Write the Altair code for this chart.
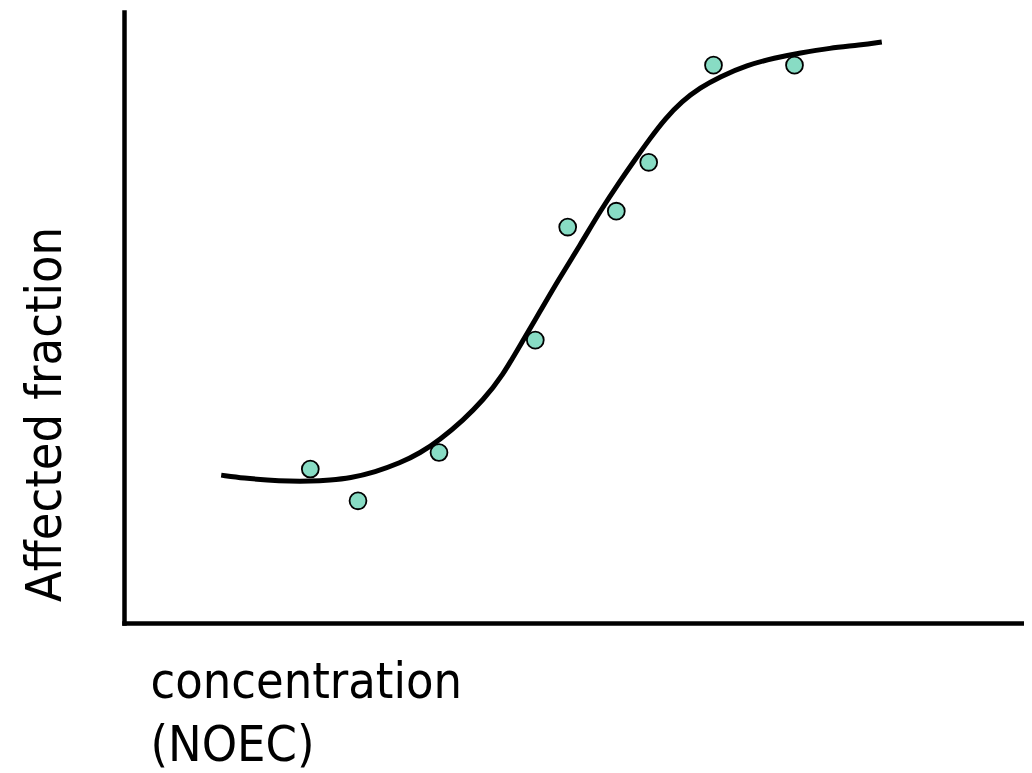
import altair as alt
import pandas as pd

obs_x = [20.7, 26.0, 35.0, 45.7, 49.3, 54.7, 58.3, 65.5, 74.5]
obs_y = [0.252, 0.200, 0.279, 0.463, 0.648, 0.674, 0.754, 0.913, 0.913]

# Fitted curve, points
curve_x = [10.8, 13.4, 15.9, 18.4, 20.7, 22.9, 25.1, 27.9, 30.7, 32.9, 35.1,
           37.7, 39.9, 42.0, 44.3, 46.2, 48.2, 50.7, 52.9, 55.1, 56.9, 58.4,
           60.1, 62.0, 64.0, 66.2, 69.2, 72.3, 75.1, 78.4, 81.8, 84.2]
curve_y = [0.242, 0.237, 0.234, 0.232, 0.232, 0.234, 0.237, 0.247, 0.262, 0.278, 0.300,
           0.332, 0.365, 0.403, 0.462, 0.509, 0.560, 0.619, 0.674, 0.723, 0.761, 0.792,
           0.825, 0.854, 0.876, 0.894, 0.913, 0.925, 0.933, 0.941, 0.946, 0.951]

x_title = ["concentration", "\u2009(NOEC)"]
y_title = "Affected fraction"

pts = pd.DataFrame({"x": obs_x, "y": obs_y})
crv = pd.DataFrame({"x": curve_x, "y": curve_y})

FONT = "DejaVu Sans Condensed, DejaVu Sans"

xscale = alt.Scale(domain=[0, 100], nice=False, zero=False)
yscale = alt.Scale(domain=[0, 1], nice=False, zero=False)

xaxis = alt.Axis(
    title=x_title, ticks=False, labels=False, grid=False,
    domainColor="black", domainWidth=4.5, domainCap="square",
    titleFont=FONT, titleFontSize=50, titleFontWeight="normal", titleColor="black",
    titleAlign="left", titleBaseline="alphabetic", titleX=26, titleY=74,
    titleLineHeight=63,
)
yaxis = alt.Axis(
    title=y_title, ticks=False, labels=False, grid=False,
    domainColor="black", domainWidth=4.5, domainCap="square",
    titleFont=FONT, titleFontSize=50, titleFontWeight="normal", titleColor="black",
    titleAngle=270, titleAlign="center", titleBaseline="alphabetic",
    titleX=-64, titleY=402,
)

line = alt.Chart(crv).mark_line(
    color="black", strokeWidth=5, interpolate="basis", strokeCap="butt"
).encode(
    x=alt.X("x:Q", scale=xscale, axis=xaxis),
    y=alt.Y("y:Q", scale=yscale, axis=yaxis),
    order="x:Q",
)

points = alt.Chart(pts).mark_point(
    filled=True, fill="#88dcc4", stroke="black", strokeWidth=1.8,
    size=285, shape="circle", opacity=1,
).encode(
    x=alt.X("x:Q", scale=xscale),
    y=alt.Y("y:Q", scale=yscale),
)

chart = alt.layer(line, points).properties(
    width=900, height=611,
    autosize=alt.AutoSizeParams(type="none"),
    padding={"left": 116, "top": 4, "right": 0, "bottom": 160},
    background="white",
).configure_view(stroke=None)

chart.save("out.html", embed_options={"renderer": "svg", "actions": False})
